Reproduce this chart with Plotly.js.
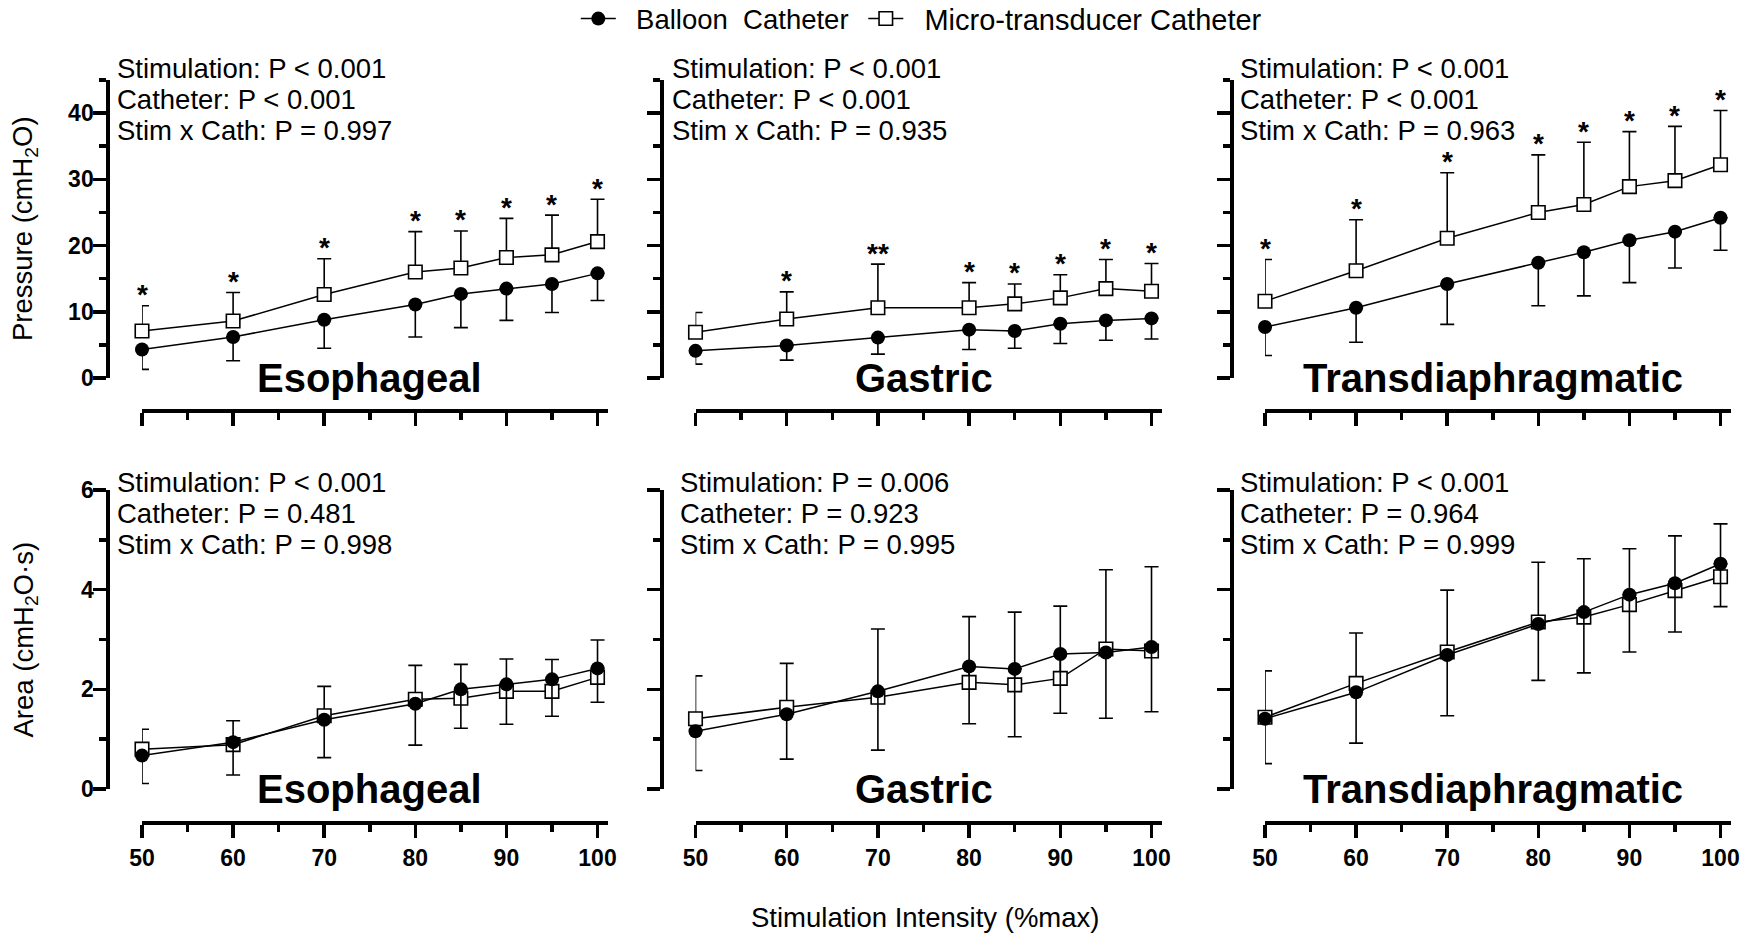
<!DOCTYPE html>
<html>
<head>
<meta charset="utf-8">
<script src="https://cdn.plot.ly/plotly-3.0.1.min.js"></script>
<style>
  html, body { margin: 0; padding: 0; background: #fff; }
  #chart { width: 1753px; height: 934px; }
</style>
</head>
<body>
<div id="chart"></div>
<script>
// ---------------- DATA ----------------
const stimIntensity = [50, 60, 70, 80, 85, 90, 95, 100];

// Pressure (cmH2O): mean and SD
const esoPresBalloon   = [4.3, 6.2, 8.8, 11.1, 12.7, 13.5, 14.2, 15.8];
const esoPresBalloonSD = [3.0, 3.6, 4.3, 4.9, 5.1, 4.8, 4.3, 4.1];
const esoPresMicro     = [7.1, 8.6, 12.6, 16.0, 16.6, 18.2, 18.6, 20.6];
const esoPresMicroSD   = [3.8, 4.3, 5.4, 6.1, 5.6, 5.9, 6.0, 6.4];

const gasPresBalloon   = [4.1, 4.9, 6.1, 7.3, 7.1, 8.2, 8.7, 9.0];
const gasPresBalloonSD = [2.0, 2.2, 2.5, 3.0, 2.6, 3.0, 3.0, 3.1];
const gasPresMicro     = [6.9, 8.9, 10.6, 10.6, 11.2, 12.1, 13.5, 13.1];
const gasPresMicroSD   = [3.0, 4.1, 6.6, 3.8, 3.0, 3.5, 4.4, 4.2];

const diPresBalloon    = [7.7, 10.6, 14.2, 17.4, 19.0, 20.8, 22.1, 24.2];
const diPresBalloonSD  = [4.3, 5.2, 6.1, 6.5, 6.6, 6.4, 5.5, 4.9];
const diPresMicro      = [11.6, 16.2, 21.1, 25.0, 26.2, 28.9, 29.8, 32.2];
const diPresMicroSD    = [6.3, 7.7, 9.9, 8.7, 9.4, 8.3, 8.2, 8.2];

// Area (cmH2O·s): mean and SD
const esoAreaBalloon   = [0.67, 0.94, 1.39, 1.71, 2.00, 2.10, 2.20, 2.42];
const esoAreaBalloonSD = [0.56, 0.66, 0.76, 0.83, 0.78, 0.80, 0.74, 0.68];
const esoAreaMicro     = [0.80, 0.89, 1.47, 1.80, 1.82, 1.96, 1.96, 2.24];
const esoAreaMicroSD   = [0.40, 0.48, 0.59, 0.68, 0.68, 0.65, 0.64, 0.75];

const gasAreaBalloon   = [1.16, 1.50, 1.96, 2.46, 2.41, 2.71, 2.74, 2.85];
const gasAreaBalloonSD = [0.79, 0.90, 1.18, 1.15, 1.36, 1.19, 1.32, 1.30];
const gasAreaMicro     = [1.41, 1.64, 1.84, 2.14, 2.09, 2.22, 2.81, 2.77];
const gasAreaMicroSD   = [0.86, 0.88, 1.37, 1.32, 1.46, 1.45, 1.59, 1.69];

const diAreaBalloon    = [1.41, 1.94, 2.69, 3.31, 3.55, 3.90, 4.13, 4.52];
const diAreaBalloonSD  = [0.90, 1.02, 1.22, 1.13, 1.22, 1.15, 0.98, 0.86];
const diAreaMicro      = [1.44, 2.12, 2.75, 3.35, 3.45, 3.70, 3.98, 4.26];
const diAreaMicroSD    = [0.93, 1.01, 1.24, 1.20, 1.17, 1.12, 1.10, 1.06];

// Significance markers (pressure panels)
const esoPresSig = ['*', '*', '*', '*', '*', '*', '*', '*'];
const gasPresSig = ['', '*', '**', '*', '*', '*', '*', '*'];
const diPresSig  = ['*', '*', '*', '*', '*', '*', '*', '*'];
const noSig      = ['', '', '', '', '', '', '', ''];

// Labels
const panelNames = ['Esophageal', 'Gastric', 'Transdiaphragmatic'];
const seriesNames = ['Balloon  Catheter', 'Micro-transducer Catheter'];
const pressureStats = [
  ['Stimulation: P &lt; 0.001', 'Catheter: P &lt; 0.001', 'Stim x Cath: P = 0.997'],
  ['Stimulation: P &lt; 0.001', 'Catheter: P &lt; 0.001', 'Stim x Cath: P = 0.935'],
  ['Stimulation: P &lt; 0.001', 'Catheter: P &lt; 0.001', 'Stim x Cath: P = 0.963']
];
const areaStats = [
  ['Stimulation: P &lt; 0.001', 'Catheter: P = 0.481', 'Stim x Cath: P = 0.998'],
  ['Stimulation: P = 0.006', 'Catheter: P = 0.923', 'Stim x Cath: P = 0.995'],
  ['Stimulation: P &lt; 0.001', 'Catheter: P = 0.964', 'Stim x Cath: P = 0.999']
];
const yTitles = ['Pressure (cmH<sub>2</sub>O)', 'Area (cmH<sub>2</sub>O·s)'];
const xTitle = 'Stimulation Intensity (%max)';

// ---------------- LAYOUT HELPERS ----------------
const W = 1753, H = 934;
const px = v => v / W;
const py = v => 1 - v / H;
const FONT = 'Liberation Sans, Arial, Helvetica, sans-serif';

const colX = [[142, 608], [695.5, 1162], [1265, 1731]];   // x-axis extent (px)
const colYAxis = [108.3, 661.7, 1231.5];                 // y-axis line x (px)
const rowY = [[80, 378], [490, 789]];                    // y domain top,bottom (px)
const rowXLine = [410.5, 823.3];                         // x-axis line y (px)
const rowRange = [[0, 45], [0, 6]];
const rowDtick = [10, 2];
const rowMinor = [5, 1];
const statsLeft = [[115, 670, 1238], [115, 678, 1238]];
const statsY = [[68, 99.5, 131], [482, 513, 544]];

const panels = [
  {b: esoPresBalloon, bsd: esoPresBalloonSD, m: esoPresMicro, msd: esoPresMicroSD, sig: esoPresSig},
  {b: gasPresBalloon, bsd: gasPresBalloonSD, m: gasPresMicro, msd: gasPresMicroSD, sig: gasPresSig},
  {b: diPresBalloon,  bsd: diPresBalloonSD,  m: diPresMicro,  msd: diPresMicroSD,  sig: diPresSig},
  {b: esoAreaBalloon, bsd: esoAreaBalloonSD, m: esoAreaMicro, msd: esoAreaMicroSD, sig: noSig},
  {b: gasAreaBalloon, bsd: gasAreaBalloonSD, m: gasAreaMicro, msd: gasAreaMicroSD, sig: noSig},
  {b: diAreaBalloon,  bsd: diAreaBalloonSD,  m: diAreaMicro,  msd: diAreaMicroSD,  sig: noSig}
];

const zeros = stimIntensity.map(() => 0);
const traces = [];
const annotations = [];
const layout = {
  width: W, height: H, autosize: false,
  margin: {l: 0, r: 0, t: 0, b: 0, autoexpand: false},
  paper_bgcolor: '#fff', plot_bgcolor: 'rgba(0,0,0,0)',
  font: {family: FONT, color: '#000'},
  showlegend: true,
  hovermode: false,
  legend: {
    orientation: 'h', x: px(575.8), xanchor: 'left', y: py(18.7), yanchor: 'middle',
    font: {family: FONT, size: 27.5, color: '#000'}, itemwidth: 35,
    bgcolor: 'rgba(0,0,0,0)', borderwidth: 0
  },
  legend2: {
    orientation: 'h', x: px(863.3), xanchor: 'left', y: py(18.7), yanchor: 'middle',
    font: {family: FONT, size: 29, color: '#000'}, itemwidth: 35,
    bgcolor: 'rgba(0,0,0,0)', borderwidth: 0
  }
};

panels.forEach((p, k) => {
  const row = k < 3 ? 0 : 1;
  const col = k % 3;
  const idx = k + 1;
  const xName = idx === 1 ? 'xaxis' : 'xaxis' + idx;
  const yName = idx === 1 ? 'yaxis' : 'yaxis' + idx;
  const xRef = idx === 1 ? 'x' : 'x' + idx;
  const yRef = idx === 1 ? 'y' : 'y' + idx;

  layout[xName] = {
    domain: [px(colX[col][0]), px(colX[col][1])],
    range: [50, 101.15],
    anchor: 'free', position: py(rowXLine[row]),
    showline: true, linewidth: 4, linecolor: '#000',
    ticks: 'outside', ticklen: 13, tickwidth: 3.5, tickcolor: '#000',
    tickmode: 'linear', tick0: 50, dtick: 10,
    minor: {tickmode: 'linear', tick0: 50, dtick: 5, ticks: 'outside', ticklen: 7, tickwidth: 3.5, tickcolor: '#000', showgrid: false},
    showticklabels: row === 1,
    tickfont: {family: FONT, size: 23, weight: 'bold', color: '#000'},
    showgrid: false, zeroline: false, fixedrange: true
  };
  layout[yName] = {
    domain: [py(rowY[row][1]), py(rowY[row][0])],
    range: rowRange[row],
    anchor: 'free', position: px(colYAxis[col]),
    showline: true, linewidth: 4, linecolor: '#000',
    ticks: 'outside', ticklen: 13, tickwidth: 3.5, tickcolor: '#000',
    tickmode: 'linear', tick0: 0, dtick: rowDtick[row],
    minor: {tickmode: 'linear', tick0: 0, dtick: rowMinor[row], ticks: 'outside', ticklen: 7, tickwidth: 3.5, tickcolor: '#000', showgrid: false},
    showticklabels: col === 0,
    ticklabelstandoff: -5,
    tickfont: {family: FONT, size: 23, weight: 'bold', color: '#000'},
    showgrid: false, zeroline: false, fixedrange: true
  };

  // Micro-transducer (open squares, SD upward)
  traces.push({
    type: 'scatter', mode: 'lines+markers',
    x: stimIntensity, y: p.m, xaxis: xRef, yaxis: yRef,
    name: '&nbsp;&nbsp;' + seriesNames[1], legend: 'legend2', showlegend: k === 0,
    cliponaxis: false,
    line: {color: '#000', width: 1.5},
    marker: {symbol: 'square', size: 13.5, color: '#fff', line: {color: '#000', width: 1.6}},
    error_y: {type: 'data', symmetric: false, array: p.msd, arrayminus: zeros, color: '#000', thickness: 1.6, width: 7}
  });
  // Balloon (filled circles, SD downward)
  traces.push({
    type: 'scatter', mode: 'lines+markers',
    x: stimIntensity, y: p.b, xaxis: xRef, yaxis: yRef,
    name: '&nbsp;&nbsp;' + seriesNames[0], legend: 'legend', showlegend: k === 0,
    cliponaxis: false,
    line: {color: '#000', width: 1.5},
    marker: {symbol: 'circle', size: 14, color: '#000', line: {width: 0}},
    error_y: {type: 'data', symmetric: false, array: zeros, arrayminus: p.bsd, color: '#000', thickness: 1.6, width: 7}
  });

  // Significance asterisks above micro-transducer SD bars
  p.sig.forEach((s, i) => {
    if (!s) return;
    annotations.push({
      xref: xRef, yref: yRef, x: stimIntensity[i], y: p.m[i] + p.msd[i],
      text: s, showarrow: false, xanchor: 'center', yanchor: 'middle', yshift: 11,
      font: {family: FONT, size: 28, weight: 'bold', color: '#000'}
    });
  });

  // Panel name
  annotations.push({
    xref: xRef, yref: yRef, x: 75, y: 0,
    text: panelNames[col], showarrow: false, xanchor: 'center', yanchor: 'middle',
    font: {family: FONT, size: 40, weight: 'bold', color: '#000'}
  });

  // Statistics text
  const stats = row === 0 ? pressureStats[col] : areaStats[col];
  stats.forEach((t, j) => {
    annotations.push({
      xref: 'paper', yref: 'paper', x: px(statsLeft[row][col]), y: py(statsY[row][j]),
      text: t, showarrow: false, xanchor: 'left', yanchor: 'middle',
      font: {family: FONT, size: 27.5, color: '#000'}
    });
  });
});

// Y titles
yTitles.forEach((t, r) => {
  annotations.push({
    xref: 'paper', yref: 'paper', x: px(25), y: py((rowY[r][0] + rowY[r][1]) / 2),
    text: t, textangle: -90, showarrow: false, xanchor: 'center', yanchor: 'middle',
    font: {family: FONT, size: 27.5, color: '#000'}
  });
});
// X title
annotations.push({
  xref: 'paper', yref: 'paper', x: px(925), y: py(917),
  text: xTitle, showarrow: false, xanchor: 'center', yanchor: 'middle',
  font: {family: FONT, size: 27.5, color: '#000'}
});

layout.annotations = annotations;

Plotly.newPlot('chart', traces, layout, {staticPlot: true, displayModeBar: false});
</script>
</body>
</html>
